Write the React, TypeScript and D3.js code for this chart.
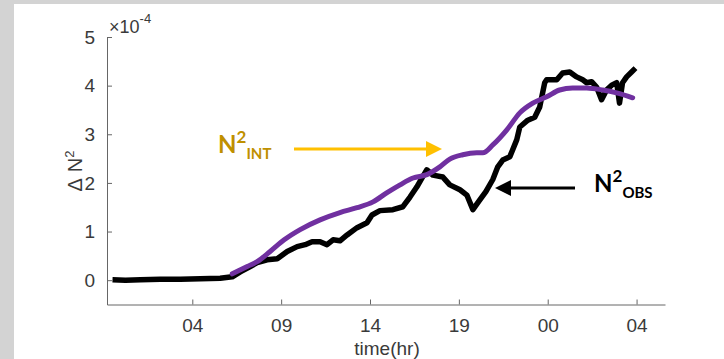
import { useEffect, useRef } from "react";
import * as d3 from "d3";

// time in hours from the start of day 1, values in units of 1e-4
const obsTime = [
  -0.49, 0.24, 1.08, 2.2, 3.33, 4.45, 5.57, 6.25, 6.7, 7.26, 7.65, 8.21, 8.78,
  9.34, 9.9, 10.35, 10.74, 11.19, 11.58, 11.92, 12.31, 12.71, 13.27, 13.83,
  14.11, 14.56, 15.29, 15.85, 16.25, 16.64, 16.92, 17.2, 17.54, 18.1, 18.49,
  19.06, 19.45, 19.79, 20.18, 20.52, 20.91, 21.19, 21.47, 21.87, 22.26, 22.43,
  22.88, 23.27, 23.55, 23.83, 23.94, 24.51, 24.84, 25.24, 25.63, 25.97, 26.19,
  26.47, 26.75, 27.03, 27.31, 27.6, 27.88, 28.04, 28.21, 28.44, 28.72, 28.94,
];
const obsValue = [
  0.01, 0.0, 0.01, 0.02, 0.02, 0.03, 0.04, 0.07, 0.17, 0.28, 0.36, 0.42, 0.44,
  0.59, 0.69, 0.73, 0.79, 0.79, 0.73, 0.83, 0.81, 0.93, 1.08, 1.18, 1.34, 1.43,
  1.45, 1.51, 1.71, 1.92, 2.1, 2.27, 2.16, 2.12, 1.96, 1.86, 1.75, 1.45, 1.65,
  1.82, 2.07, 2.33, 2.47, 2.54, 2.89, 3.15, 3.29, 3.35, 3.56, 4.06, 4.12, 4.12,
  4.26, 4.28, 4.18, 4.12, 4.06, 4.08, 3.97, 3.71, 3.91, 4.01, 4.06, 3.64, 4.06,
  4.18, 4.28, 4.36,
];

const intTime = [
  6.25, 7.09, 7.65, 8.38, 9.17, 10.07, 11.19, 12.31, 13.27, 14.17, 14.96,
  15.69, 16.42, 17.2, 17.93, 18.49, 19.22, 20.01, 20.35, 20.91, 21.7, 22.43,
  23.16, 23.94, 24.67, 25.4, 26.19, 27.09, 27.88, 28.78,
];
const intValue = [
  0.13, 0.28, 0.38, 0.59, 0.83, 1.04, 1.24, 1.39, 1.49, 1.61, 1.8, 1.96, 2.1,
  2.17, 2.33, 2.49, 2.58, 2.62, 2.62, 2.78, 3.09, 3.44, 3.64, 3.77, 3.91, 3.95,
  3.95, 3.91, 3.85, 3.75,
];

const xTicks = [4, 9, 14, 19, 24, 29];
const xTickLabels = ["04", "09", "14", "19", "00", "04"];
const yTicks = [0, 1, 2, 3, 4, 5];

const width = 724;
const height = 359;

const App = () => {
  const svgRef = useRef(null);

  useEffect(() => {
    const svg = d3.select(svgRef.current);
    svg.selectAll("*").remove();

    // gray frame strips of the slide
    svg.append("rect").attr("width", width).attr("height", height).attr("fill", "#fff");
    svg.append("rect").attr("width", width).attr("height", 4).attr("fill", "#d3d3d3");
    svg.append("rect").attr("width", 14).attr("height", height).attr("fill", "#d3d3d3");

    const x = d3.scaleLinear().domain([-0.8, 30.6]).range([107, 665]);
    const y = d3.scaleLinear().domain([-0.5, 5]).range([304.5, 37]);

    const axisColor = "#666";
    const textColor = "#3a3a3a";
    const font = "'Liberation Sans', Arial, sans-serif";

    const xAxis = svg
      .append("g")
      .attr("transform", `translate(0, ${y.range()[0]})`)
      .call(
        d3
          .axisBottom(x)
          .tickValues(xTicks)
          .tickFormat((d, i) => xTickLabels[i])
          .tickSizeInner(-5)
          .tickSizeOuter(0)
          .tickPadding(14)
      );
    xAxis.select(".domain").attr("stroke", axisColor);
    xAxis.selectAll(".tick line").attr("stroke", axisColor);
    xAxis
      .selectAll(".tick text")
      .attr("fill", textColor)
      .attr("font-family", font)
      .attr("font-size", 19);

    const yAxis = svg
      .append("g")
      .attr("transform", `translate(${x.range()[0]}, 0)`)
      .call(
        d3
          .axisLeft(y)
          .tickValues(yTicks)
          .tickFormat(d3.format("d"))
          .tickSizeInner(-5)
          .tickSizeOuter(0)
          .tickPadding(12)
      );
    yAxis.select(".domain").attr("stroke", axisColor);
    yAxis.selectAll(".tick line").attr("stroke", axisColor);
    yAxis
      .selectAll(".tick text")
      .attr("fill", textColor)
      .attr("font-family", font)
      .attr("font-size", 19);

    // exponent label
    const expo = svg
      .append("text")
      .attr("x", 109)
      .attr("y", 33)
      .attr("fill", textColor)
      .attr("font-family", font)
      .attr("font-size", 18);
    expo.append("tspan").text("\u00d710");
    expo.append("tspan").attr("dy", -10).attr("font-size", 13).text("-4");

    // axis titles
    svg
      .append("text")
      .attr("x", 387)
      .attr("y", 355)
      .attr("text-anchor", "middle")
      .attr("fill", textColor)
      .attr("font-family", font)
      .attr("font-size", 19)
      .text("time(hr)");

    const yl = svg
      .append("text")
      .attr("transform", "translate(82, 171) rotate(-90)")
      .attr("text-anchor", "middle")
      .attr("fill", textColor)
      .attr("font-family", font)
      .attr("font-size", 20);
    yl.append("tspan").text("\u0394");
    yl.append("tspan").attr("dx", 6).text("N");
    yl.append("tspan").attr("dy", -8).attr("font-size", 13).text("2");

    const obs = obsTime.map((t, i) => [t, obsValue[i]]);
    const int = intTime.map((t, i) => [t, intValue[i]]);

    svg
      .append("path")
      .datum(obs)
      .attr("fill", "none")
      .attr("stroke", "#000")
      .attr("stroke-width", 5.5)
      .attr("stroke-linejoin", "round")
      .attr("d", d3.line().x((d) => x(d[0])).y((d) => y(d[1])));

    svg
      .append("path")
      .datum(int)
      .attr("fill", "none")
      .attr("stroke", "#7030a0")
      .attr("stroke-width", 5)
      .attr("stroke-linecap", "round")
      .attr("d", d3.line().curve(d3.curveMonotoneX).x((d) => x(d[0])).y((d) => y(d[1])));

    // annotations
    const annFont = "Lato, 'Open Sans', sans-serif";

    const addArrow = (x1, x2, yy, color, w) => {
      const dir = x2 > x1 ? 1 : -1;
      const head = 16;
      svg
        .append("line")
        .attr("x1", x1)
        .attr("x2", x2 - dir * head + dir)
        .attr("y1", yy)
        .attr("y2", yy)
        .attr("stroke", color)
        .attr("stroke-width", w);
      svg
        .append("path")
        .attr(
          "d",
          `M${x2},${yy} L${x2 - dir * head},${yy - 8} L${x2 - dir * head},${yy + 8} Z`
        )
        .attr("fill", color);
    };

    addArrow(294, 442, 149, "#ffc000", 3);
    addArrow(575, 495, 188, "#000", 3);

    const label = (lx, ly, color, sub) => {
      const t = svg
        .append("text")
        .attr("x", lx)
        .attr("y", ly)
        .attr("fill", color)
        .attr("font-family", annFont)
        .attr("font-weight", "bold")
        .attr("font-size", 24);
      t.append("tspan").text("N");
      t.append("tspan").attr("dy", -10).attr("font-size", 17).text("2");
      t.append("tspan").attr("dy", 16).attr("font-size", 15).text(sub);
    };

    label(218, 153, "#bf9000", "INT");
    label(594, 192, "#000", "OBS");
  }, []);

  return (
    <svg
      ref={svgRef}
      width={width}
      height={height}
      style={{ position: "absolute", left: 0, top: 0 }}
    />
  );
};

export default App;
